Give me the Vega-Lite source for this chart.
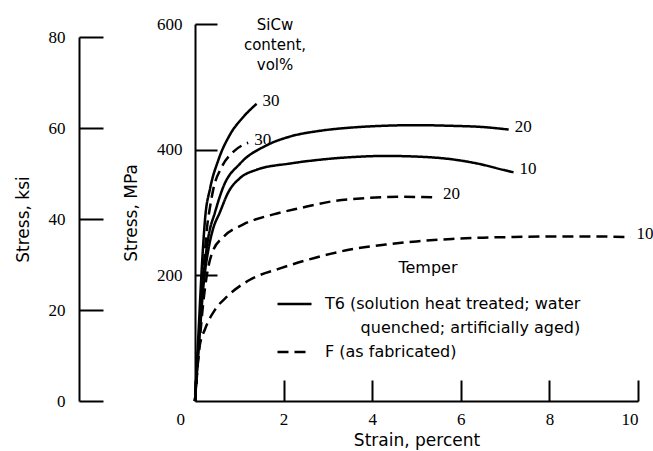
{
  "$schema": "https://vega.github.io/schema/vega-lite/v6.json",
  "width": 443,
  "height": 377,
  "autosize": "none",
  "padding": {"left": 195, "top": 24, "right": 15, "bottom": 50},
  "background": "white",
  "config": {
    "view": {"stroke": null},
    "font": "DejaVu Sans",
    "axis": {
      "grid": false,
      "domainColor": "black",
      "domainWidth": 2,
      "tickColor": "black",
      "tickWidth": 2,
      "labelColor": "black",
      "labelFont": "Liberation Sans Narrow",
      "labelFontSize": 17,
      "titleColor": "black",
      "titleFont": "DejaVu Sans",
      "titleFontSize": 17,
      "titleFontWeight": "normal"
    }
  },
  "title": {
    "text": ["SiCᴡ", "content,", "vol%"],
    "anchor": "start",
    "frame": "group",
    "align": "center",
    "dx": 80,
    "offset": -58,
    "font": "DejaVu Sans",
    "fontSize": 15,
    "fontWeight": "normal",
    "lineHeight": 20,
    "color": "black"
  },
  "layer": [
    {
      "data": {"values": [{"ksi": 0}, {"ksi": 80}]},
      "mark": {"type": "point", "opacity": 0},
      "encoding": {
        "y": {
          "field": "ksi",
          "type": "quantitative",
          "scale": {"domain": [0, 80], "range": [377, 13], "nice": false},
          "axis": {
            "orient": "left",
            "offset": 116,
            "values": [0, 20, 40, 60, 80],
            "tickSize": -24,
            "labelPadding": 38,
            "title": "Stress, ksi",
            "titlePadding": 16
          }
        }
      }
    },
    {
      "data": {
        "values": [
          {"temper": "T6", "content": "30", "strain": 0, "stress": 0},
          {"temper": "T6", "content": "30", "strain": 0.08, "stress": 110},
          {"temper": "T6", "content": "30", "strain": 0.16, "stress": 220},
          {"temper": "T6", "content": "30", "strain": 0.23, "stress": 292},
          {"temper": "T6", "content": "30", "strain": 0.34, "stress": 338},
          {"temper": "T6", "content": "30", "strain": 0.53, "stress": 384},
          {"temper": "T6", "content": "30", "strain": 0.79, "stress": 424},
          {"temper": "T6", "content": "30", "strain": 1.09, "stress": 452},
          {"temper": "T6", "content": "30", "strain": 1.39, "stress": 473},

          {"temper": "F", "content": "30", "strain": 0, "stress": 0},
          {"temper": "F", "content": "30", "strain": 0.1, "stress": 110},
          {"temper": "F", "content": "30", "strain": 0.2, "stress": 215},
          {"temper": "F", "content": "30", "strain": 0.27, "stress": 275},
          {"temper": "F", "content": "30", "strain": 0.34, "stress": 309},
          {"temper": "F", "content": "30", "strain": 0.41, "stress": 336},
          {"temper": "F", "content": "30", "strain": 0.6, "stress": 372},
          {"temper": "F", "content": "30", "strain": 0.87, "stress": 397},
          {"temper": "F", "content": "30", "strain": 1.2, "stress": 411},

          {"temper": "T6", "content": "20", "strain": 0, "stress": 0},
          {"temper": "T6", "content": "20", "strain": 0.1, "stress": 110},
          {"temper": "T6", "content": "20", "strain": 0.2, "stress": 205},
          {"temper": "T6", "content": "20", "strain": 0.3, "stress": 260},
          {"temper": "T6", "content": "20", "strain": 0.45, "stress": 300},
          {"temper": "T6", "content": "20", "strain": 0.64, "stress": 341},
          {"temper": "T6", "content": "20", "strain": 1.02, "stress": 378},
          {"temper": "T6", "content": "20", "strain": 1.62, "stress": 407},
          {"temper": "T6", "content": "20", "strain": 2.15, "stress": 421},
          {"temper": "T6", "content": "20", "strain": 2.82, "stress": 430},
          {"temper": "T6", "content": "20", "strain": 3.5, "stress": 435},
          {"temper": "T6", "content": "20", "strain": 4.25, "stress": 438},
          {"temper": "T6", "content": "20", "strain": 5.0, "stress": 439},
          {"temper": "T6", "content": "20", "strain": 5.76, "stress": 438},
          {"temper": "T6", "content": "20", "strain": 6.5, "stress": 436},
          {"temper": "T6", "content": "20", "strain": 7.08, "stress": 432},

          {"temper": "T6", "content": "10", "strain": 0, "stress": 0},
          {"temper": "T6", "content": "10", "strain": 0.1, "stress": 100},
          {"temper": "T6", "content": "10", "strain": 0.2, "stress": 190},
          {"temper": "T6", "content": "10", "strain": 0.3, "stress": 240},
          {"temper": "T6", "content": "10", "strain": 0.4, "stress": 272},
          {"temper": "T6", "content": "10", "strain": 0.56, "stress": 300},
          {"temper": "T6", "content": "10", "strain": 0.75, "stress": 332},
          {"temper": "T6", "content": "10", "strain": 1.02, "stress": 355},
          {"temper": "T6", "content": "10", "strain": 1.39, "stress": 368},
          {"temper": "T6", "content": "10", "strain": 2.15, "stress": 378},
          {"temper": "T6", "content": "10", "strain": 2.82, "stress": 384},
          {"temper": "T6", "content": "10", "strain": 3.5, "stress": 388},
          {"temper": "T6", "content": "10", "strain": 4.3, "stress": 390},
          {"temper": "T6", "content": "10", "strain": 5.0, "stress": 389},
          {"temper": "T6", "content": "10", "strain": 5.76, "stress": 385},
          {"temper": "T6", "content": "10", "strain": 6.5, "stress": 376},
          {"temper": "T6", "content": "10", "strain": 6.89, "stress": 369},
          {"temper": "T6", "content": "10", "strain": 7.19, "stress": 364},

          {"temper": "F", "content": "20", "strain": 0, "stress": 0},
          {"temper": "F", "content": "20", "strain": 0.1, "stress": 90},
          {"temper": "F", "content": "20", "strain": 0.2, "stress": 165},
          {"temper": "F", "content": "20", "strain": 0.3, "stress": 213},
          {"temper": "F", "content": "20", "strain": 0.4, "stress": 238},
          {"temper": "F", "content": "20", "strain": 0.64, "stress": 261},
          {"temper": "F", "content": "20", "strain": 1.09, "stress": 281},
          {"temper": "F", "content": "20", "strain": 1.77, "stress": 297},
          {"temper": "F", "content": "20", "strain": 2.37, "stress": 307},
          {"temper": "F", "content": "20", "strain": 3.12, "stress": 318},
          {"temper": "F", "content": "20", "strain": 3.88, "stress": 323},
          {"temper": "F", "content": "20", "strain": 4.63, "stress": 325},
          {"temper": "F", "content": "20", "strain": 5.46, "stress": 324},

          {"temper": "F", "content": "10", "strain": 0, "stress": 0},
          {"temper": "F", "content": "10", "strain": 0.1, "stress": 85},
          {"temper": "F", "content": "10", "strain": 0.23, "stress": 115},
          {"temper": "F", "content": "10", "strain": 0.45, "stress": 145},
          {"temper": "F", "content": "10", "strain": 0.72, "stress": 166},
          {"temper": "F", "content": "10", "strain": 1.24, "stress": 193},
          {"temper": "F", "content": "10", "strain": 1.92, "stress": 211},
          {"temper": "F", "content": "10", "strain": 2.82, "stress": 230},
          {"temper": "F", "content": "10", "strain": 3.5, "stress": 241},
          {"temper": "F", "content": "10", "strain": 4.3, "stress": 249},
          {"temper": "F", "content": "10", "strain": 5.0, "stress": 254},
          {"temper": "F", "content": "10", "strain": 5.8, "stress": 258},
          {"temper": "F", "content": "10", "strain": 6.5, "stress": 260},
          {"temper": "F", "content": "10", "strain": 7.2, "stress": 261},
          {"temper": "F", "content": "10", "strain": 8.0, "stress": 262},
          {"temper": "F", "content": "10", "strain": 8.7, "stress": 262},
          {"temper": "F", "content": "10", "strain": 9.83, "stress": 261}
        ]
      },
      "encoding": {
        "x": {
          "field": "strain",
          "type": "quantitative",
          "scale": {"domain": [0, 10], "nice": false},
          "axis": {
            "values": [0, 2, 4, 6, 8, 10],
            "tickSize": -21,
            "labelPadding": 31,
            "labelOffset": {"expr": "datum.value == 0 ? -19 : 0"},
            "title": "Strain, percent",
            "titleFontSize": 17,
            "titlePadding": 5
          }
        },
        "y": {
          "field": "stress",
          "type": "quantitative",
          "scale": {"domain": [0, 600], "nice": false},
          "axis": {
            "orient": "left",
            "values": [200, 400, 600],
            "tickSize": -22,
            "labelPadding": 35,
            "title": "Stress, MPa",
            "titlePadding": 16
          }
        }
      },
      "layer": [
        {
          "mark": {"type": "line", "color": "black", "strokeWidth": 2.5, "interpolate": "monotone"},
          "encoding": {
            "detail": [{"field": "temper"}, {"field": "content"}],
            "strokeDash": {
              "field": "temper",
              "type": "nominal",
              "scale": {"domain": ["T6", "T6q", "F"], "range": [[1, 0], [0, 40], [11, 6]]},
              "legend": {
                "title": "Temper",
                "orient": "none",
                "legendX": 81,
                "legendY": 236,
                "padding": 0,
                "titleAnchor": "middle",
                "titleFont": "DejaVu Sans",
                "titleFontSize": 16,
                "titleFontWeight": "normal",
                "titleColor": "black",
                "titlePadding": 18,
                "labelFont": "DejaVu Sans",
                "labelFontSize": 16,
                "labelColor": "black",
                "labelLimit": 400,
                "labelOffset": 29,
                "rowPadding": 6,
                "symbolType": "M-1,0H3",
                "symbolSize": 289,
                "symbolStrokeWidth": 2.5,
                "symbolStrokeColor": "black",
                "labelExpr": "datum.value == 'T6' ? 'T6 (solution heat treated; water' : datum.value == 'F' ? 'F (as fabricated)' : '\u200b\u00a0\u00a0\u00a0\u00a0\u00a0\u00a0\u00a0quenched; artificially aged)'"
              }
            }
          }
        },
        {
          "transform": [
            {"joinaggregate": [{"op": "max", "field": "strain", "as": "endStrain"}], "groupby": ["temper", "content"]},
            {"filter": "datum.strain == datum.endStrain"}
          ],
          "mark": {"type": "text", "align": "left", "baseline": "middle", "dx": 6, "dy": -3, "font": "Liberation Sans Narrow", "fontSize": 17, "color": "black"},
          "encoding": {"text": {"field": "content"}}
        }
      ]
    }
  ],
  "resolve": {"scale": {"y": "independent"}, "axis": {"y": "independent"}}
}
